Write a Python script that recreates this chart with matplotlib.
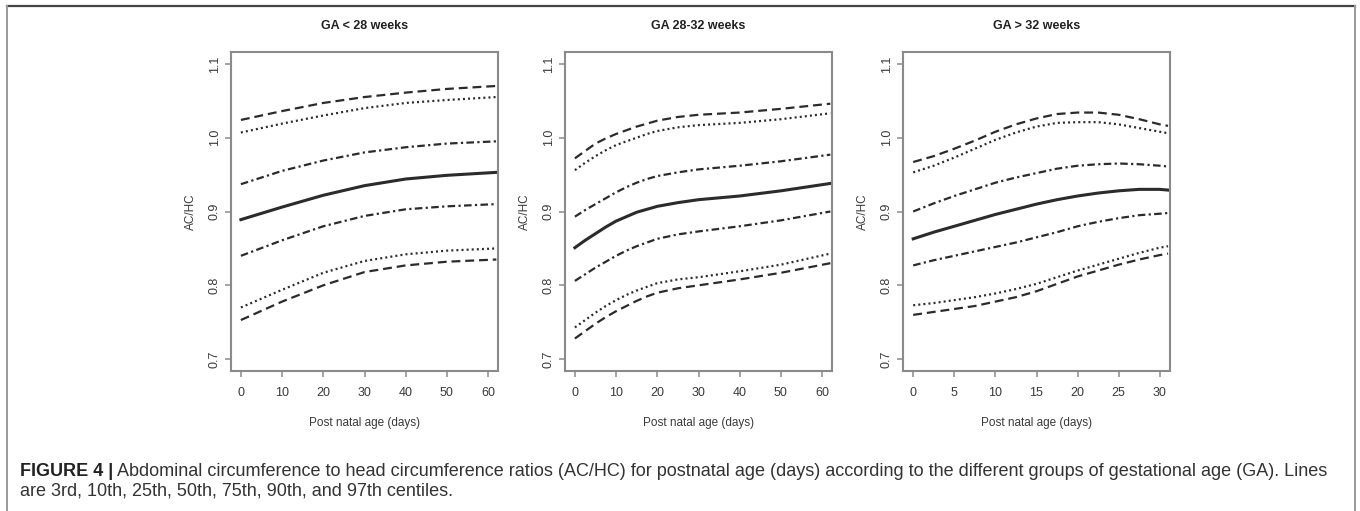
import matplotlib
matplotlib.use("Agg")
import matplotlib.pyplot as plt
from matplotlib.lines import Line2D

plt.rcParams["font.family"] = ["Liberation Sans", "DejaVu Sans"]

# ---- data ----------------------------------------------------------------
titles = ["GA < 28 weeks", "GA 28-32 weeks", "GA > 32 weeks"]
centile_names = ["3rd", "10th", "25th", "50th", "75th", "90th", "97th"]

days_a = [0, 10, 20, 30, 40, 50, 62]
ga_lt28 = {
    "3rd":  [0.753, 0.778, 0.800, 0.818, 0.827, 0.832, 0.835],
    "10th": [0.770, 0.794, 0.817, 0.833, 0.842, 0.847, 0.850],
    "25th": [0.840, 0.861, 0.880, 0.894, 0.903, 0.907, 0.910],
    "50th": [0.889, 0.906, 0.922, 0.935, 0.944, 0.949, 0.953],
    "75th": [0.937, 0.955, 0.969, 0.980, 0.987, 0.992, 0.995],
    "90th": [1.007, 1.019, 1.030, 1.040, 1.047, 1.051, 1.055],
    "97th": [1.024, 1.036, 1.047, 1.055, 1.061, 1.066, 1.070],
}

days_b = [0, 2.5, 5, 7.5, 10, 12.5, 15, 17.5, 20, 25, 30, 40, 50, 62]
ga_28_32 = {
    "3rd":  [0.728, 0.738, 0.748, 0.757, 0.765, 0.772, 0.779, 0.785, 0.790,
             0.796, 0.800, 0.808, 0.817, 0.830],
    "10th": [0.743, 0.753, 0.763, 0.772, 0.780, 0.787, 0.793, 0.798, 0.803,
             0.808, 0.811, 0.819, 0.828, 0.843],
    "25th": [0.806, 0.815, 0.824, 0.832, 0.840, 0.847, 0.853, 0.858, 0.863,
             0.869, 0.873, 0.880, 0.888, 0.900],
    "50th": [0.851, 0.861, 0.870, 0.879, 0.887, 0.893, 0.899, 0.903, 0.907,
             0.912, 0.916, 0.921, 0.928, 0.938],
    "75th": [0.893, 0.902, 0.910, 0.918, 0.926, 0.933, 0.939, 0.944, 0.948,
             0.953, 0.957, 0.962, 0.968, 0.977],
    "90th": [0.956, 0.966, 0.975, 0.983, 0.990, 0.995, 1.000, 1.005, 1.009,
             1.014, 1.017, 1.020, 1.025, 1.033],
    "97th": [0.972, 0.982, 0.992, 0.999, 1.005, 1.010, 1.015, 1.019, 1.023,
             1.028, 1.031, 1.034, 1.039, 1.046],
}

days_c = [0, 2.5, 5, 7.5, 10, 12.5, 15, 17.5, 20, 22.5, 25, 27.5, 30, 31]
ga_gt32 = {
    "3rd":  [0.760, 0.764, 0.768, 0.772, 0.778, 0.784, 0.792, 0.802, 0.812,
             0.820, 0.828, 0.835, 0.841, 0.843],
    "10th": [0.773, 0.776, 0.780, 0.784, 0.789, 0.795, 0.802, 0.811, 0.820,
             0.828, 0.836, 0.844, 0.851, 0.853],
    "25th": [0.827, 0.834, 0.840, 0.846, 0.852, 0.858, 0.865, 0.872, 0.880,
             0.886, 0.891, 0.895, 0.897, 0.898],
    "50th": [0.863, 0.872, 0.880, 0.888, 0.896, 0.903, 0.910, 0.916, 0.921,
             0.925, 0.928, 0.930, 0.930, 0.929],
    "75th": [0.900, 0.911, 0.921, 0.930, 0.939, 0.946, 0.952, 0.958, 0.962,
             0.964, 0.965, 0.964, 0.962, 0.961],
    "90th": [0.953, 0.962, 0.973, 0.985, 0.997, 1.007, 1.015, 1.020, 1.021,
             1.021, 1.018, 1.013, 1.008, 1.006],
    "97th": [0.967, 0.975, 0.985, 0.996, 1.008, 1.018, 1.026, 1.032, 1.034,
             1.034, 1.031, 1.025, 1.018, 1.016],
}

panels = [(days_a, ga_lt28), (days_b, ga_28_32), (days_c, ga_gt32)]
xticks = [[0, 10, 20, 30, 40, 50, 60], [0, 10, 20, 30, 40, 50, 60],
          [0, 5, 10, 15, 20, 25, 30]]
xlims = [(-2.4, 62.4), (-2.4, 62.4), (-1.24, 31.24)]
yticks = [0.7, 0.8, 0.9, 1.0, 1.1]

caption_bold = "FIGURE 4 |"
caption_l1 = ("Abdominal circumference to head circumference ratios (AC/HC) for postnatal age (days) "
              "according to the different groups of gestational age (GA). Lines")
caption_l2 = "are 3rd, 10th, 25th, 50th, 75th, 90th, and 97th centiles."

# ---- styles ---------------------------------------------------------------
line_col = "#2b2b2b"
axis_col = "#8a8a8a"
text_col = "#3a3a3a"
styles = {
    "3rd":  dict(lw=1.6, dashes=(4, 2.2)),
    "10th": dict(lw=1.6, dashes=(0.9, 1.4)),
    "25th": dict(lw=1.6, dashes=(3.4, 1.5, 1.0, 1.5)),
    "50th": dict(lw=2.2, ls="-"),
    "75th": dict(lw=1.6, dashes=(3.4, 1.5, 1.0, 1.5)),
    "90th": dict(lw=1.6, dashes=(0.9, 1.4)),
    "97th": dict(lw=1.6, dashes=(4, 2.2)),
}

W, H = 1360, 511
fig = plt.figure(figsize=(W / 100, H / 100), dpi=100)

# outer frame of the figure panel
fig.add_artist(Line2D([7 / W, 1355 / W], [1 - 6 / H, 1 - 6 / H], transform=fig.transFigure,
                      color="#444444", lw=1.6))
for xp in (7, 1355):
    fig.add_artist(Line2D([xp / W, xp / W], [0, 1 - 6 / H], transform=fig.transFigure,
                          color="#9a9a9a", lw=1.4))

lefts = [231, 565, 903]
ax_w, top, bottom = 267, 52, 371
for i, (days, data) in enumerate(panels):
    ax = fig.add_axes([lefts[i] / W, 1 - bottom / H, ax_w / W, (bottom - top) / H])
    for name in centile_names:
        st = styles[name]
        if "dashes" in st:
            ax.plot(days, data[name], color=line_col, lw=st["lw"], dashes=st["dashes"],
                    dash_capstyle="butt")
        else:
            ax.plot(days, data[name], color=line_col, lw=st["lw"], ls=st["ls"])
    ax.set_xlim(*xlims[i])
    ax.set_ylim(0.684, 1.116)
    ax.set_xticks(xticks[i])
    ax.set_yticks(yticks)
    ax.set_yticklabels([f"{v:.1f}" for v in yticks], rotation=90, va="center")
    ax.tick_params(axis="both", colors=axis_col, labelcolor=text_col, length=4.5,
                   width=1.1, labelsize=9)
    ax.tick_params(axis="x", pad=7)
    ax.tick_params(axis="y", pad=3)
    for sp in ax.spines.values():
        sp.set_color(axis_col)
        sp.set_linewidth(1.5)
    ax.set_xlabel("Post natal age (days)", fontsize=8.5, color=text_col)
    ax.xaxis.set_label_coords(0.5, -46 / (bottom - top))
    ax.set_ylabel("AC/HC", fontsize=8.5, color=text_col)
    ax.yaxis.set_label_coords(-34 / ax_w, 0.5)
    ax.text(0.5, 1 + 26 / (bottom - top), titles[i], transform=ax.transAxes,
            ha="center", va="center", fontsize=9, fontweight="bold", color="#222222")

# caption: bold lead-in followed by regular text
cap_size = 13
tb = fig.text(20 / W, 1 - 471 / H, caption_bold, ha="left", va="center", fontsize=cap_size,
              fontweight="bold", color="#222222")
fig.canvas.draw()
bb = tb.get_window_extent(fig.canvas.get_renderer())
fig.text((bb.x1 + 4) / W, 1 - 471 / H, caption_l1, ha="left", va="center",
         fontsize=cap_size, color="#333333")
fig.text(20 / W, 1 - 491 / H, caption_l2, ha="left", va="center", fontsize=cap_size,
         color="#333333")

fig.savefig("out.png", dpi=100)
